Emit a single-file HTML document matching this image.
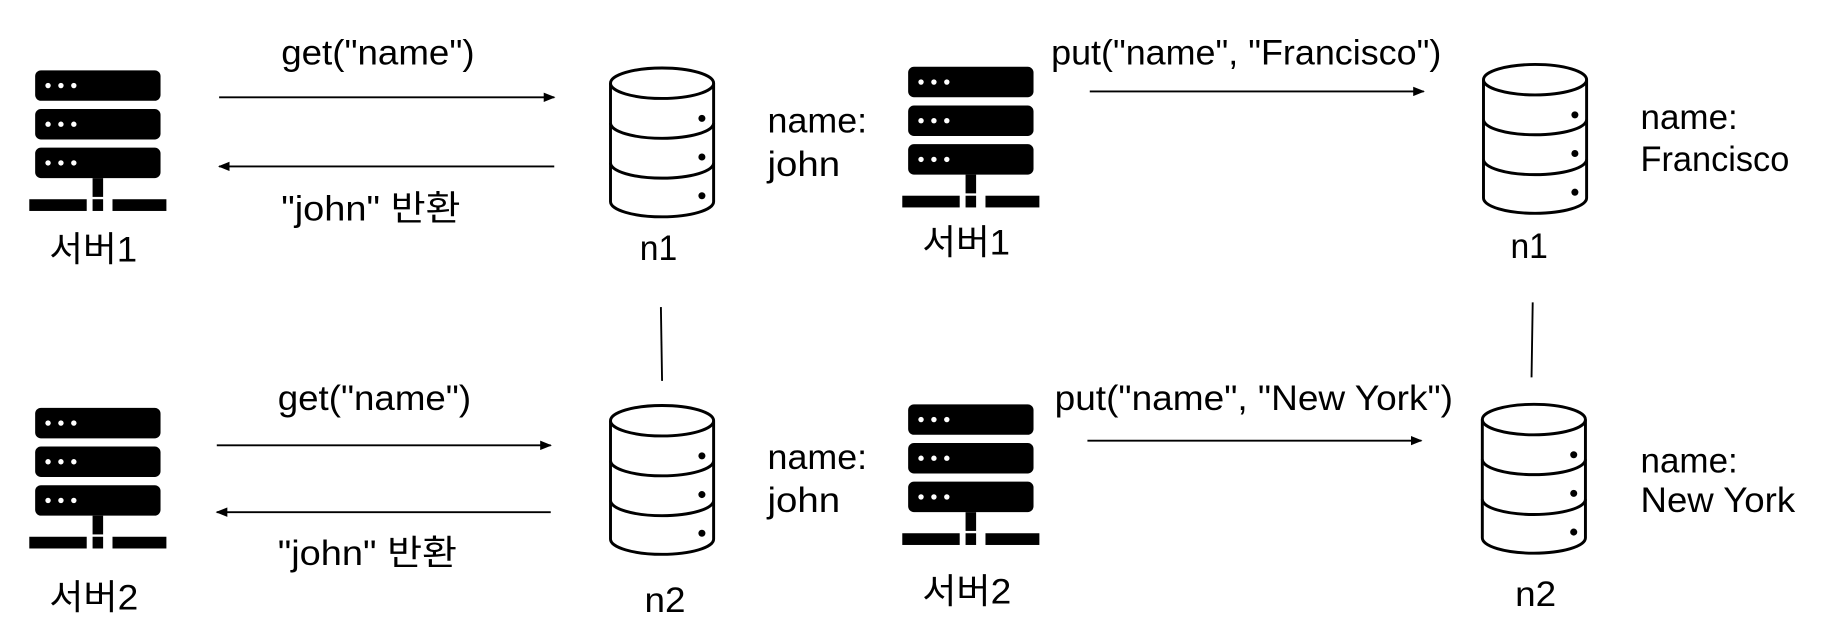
<!DOCTYPE html>
<html><head><meta charset="utf-8"><style>
html,body{margin:0;padding:0;background:#fff;}
svg{display:block;}
text{font-family:"Liberation Sans","Noto Sans CJK KR",sans-serif;font-size:30px;fill:#000;}
</style></head><body>
<svg width="1828" height="627" viewBox="0 0 1560 535" preserveAspectRatio="none" xmlns="http://www.w3.org/2000/svg">
<defs>
<g id="srv">
<rect x="0" y="0" width="107" height="26" rx="5" fill="#000"/>
<rect x="0" y="33" width="107" height="26" rx="5" fill="#000"/>
<rect x="0" y="66" width="107" height="26" rx="5" fill="#000"/>
<g fill="#fff"><circle cx="11" cy="13" r="2.3"/><circle cx="22" cy="13" r="2.3"/><circle cx="33" cy="13" r="2.3"/>
<circle cx="11" cy="46" r="2.3"/><circle cx="22" cy="46" r="2.3"/><circle cx="33" cy="46" r="2.3"/>
<circle cx="11" cy="79" r="2.3"/><circle cx="22" cy="79" r="2.3"/><circle cx="33" cy="79" r="2.3"/></g>
<rect x="49" y="92" width="9" height="16" fill="#000"/>
<rect x="-5" y="110" width="49" height="10" fill="#000"/>
<rect x="49" y="110" width="9" height="10" fill="#000"/>
<rect x="66" y="110" width="46" height="10" fill="#000"/>
</g>
<g id="db" fill="none" stroke="#000" stroke-width="2.5">
<ellipse cx="45" cy="13" rx="44" ry="13"/>
<path d="M1 13 V114 A44 13 0 0 0 89 114 V13"/>
<path d="M1 47 A44 13 0 0 0 89 47"/>
<path d="M1 81 A44 13 0 0 0 89 81"/>
<g fill="#000" stroke="none"><circle cx="79" cy="43" r="3"/><circle cx="79" cy="76" r="3"/><circle cx="79" cy="109" r="3"/></g>
</g>
<marker id="ah" markerWidth="10" markerHeight="8" refX="9" refY="4" orient="auto" markerUnits="userSpaceOnUse">
<path d="M0 0 L10 4 L0 8 Z" fill="#000"/></marker>
</defs>
<g stroke="#000" stroke-width="1.6" fill="none">
<line x1="187" y1="83" x2="473" y2="83" marker-end="url(#ah)"/>
<line x1="473" y1="142" x2="187" y2="142" marker-end="url(#ah)"/>
<line x1="185" y1="380" x2="470" y2="380" marker-end="url(#ah)"/>
<line x1="470" y1="437" x2="185" y2="437" marker-end="url(#ah)"/>
<line x1="930" y1="78" x2="1215" y2="78" marker-end="url(#ah)"/>
<line x1="928" y1="376" x2="1213" y2="376" marker-end="url(#ah)"/>
<line x1="564" y1="262" x2="565" y2="325"/>
<line x1="1308" y1="258" x2="1307" y2="322"/>
</g>
<use href="#srv" x="30" y="60"/>
<use href="#srv" x="30" y="348"/>
<use href="#srv" x="775" y="57"/>
<use href="#srv" x="775" y="345"/>
<use href="#db" x="520" y="58"/>
<use href="#db" x="520" y="346"/>
<use href="#db" x="1265" y="55"/>
<use href="#db" x="1264" y="345"/>
<text x="42" y="223" textLength="75" lengthAdjust="spacingAndGlyphs">서버1</text>
<text x="42" y="520" textLength="76" lengthAdjust="spacingAndGlyphs">서버2</text>
<text x="787" y="217" textLength="75" lengthAdjust="spacingAndGlyphs">서버1</text>
<text x="787" y="515" textLength="76" lengthAdjust="spacingAndGlyphs">서버2</text>
<text x="546" y="222" textLength="32" lengthAdjust="spacingAndGlyphs">n1</text>
<text x="550" y="522" textLength="35" lengthAdjust="spacingAndGlyphs">n2</text>
<text x="1289" y="220" textLength="32" lengthAdjust="spacingAndGlyphs">n1</text>
<text x="1293" y="517" textLength="35" lengthAdjust="spacingAndGlyphs">n2</text>
<text x="240" y="55" textLength="165" lengthAdjust="spacingAndGlyphs">get("name")</text>
<text x="240" y="188" textLength="153" lengthAdjust="spacingAndGlyphs">"john" 반환</text>
<text x="237" y="350" textLength="165" lengthAdjust="spacingAndGlyphs">get("name")</text>
<text x="237" y="482" textLength="153" lengthAdjust="spacingAndGlyphs">"john" 반환</text>
<text x="897" y="55" textLength="333" lengthAdjust="spacingAndGlyphs">put("name", "Francisco")</text>
<text x="900" y="350" textLength="340" lengthAdjust="spacingAndGlyphs">put("name", "New York")</text>
<text x="655" y="113" textLength="85" lengthAdjust="spacingAndGlyphs">name:</text>
<text x="655" y="150" textLength="62" lengthAdjust="spacingAndGlyphs">john</text>
<text x="655" y="400" textLength="85" lengthAdjust="spacingAndGlyphs">name:</text>
<text x="655" y="437" textLength="62" lengthAdjust="spacingAndGlyphs">john</text>
<text x="1400" y="110" textLength="83" lengthAdjust="spacingAndGlyphs">name:</text>
<text x="1400" y="146" textLength="127" lengthAdjust="spacingAndGlyphs">Francisco</text>
<text x="1400" y="403" textLength="83" lengthAdjust="spacingAndGlyphs">name:</text>
<text x="1400" y="437" textLength="132" lengthAdjust="spacingAndGlyphs">New York</text>
</svg>
</body></html>
